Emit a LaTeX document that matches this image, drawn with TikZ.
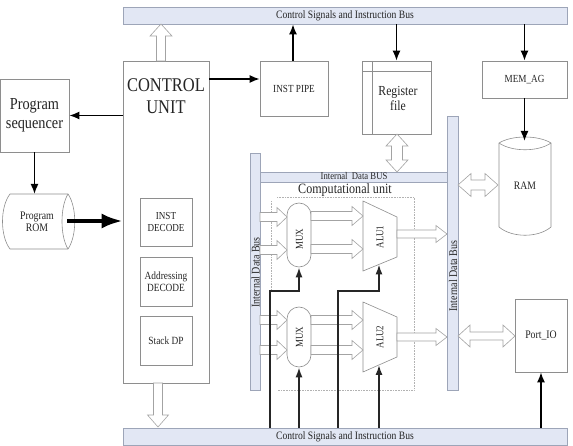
\documentclass[tikz,border=0pt]{standalone}
\usepackage{fontspec}
\setmainfont{Liberation Serif}[FakeStretch=0.85]
\usetikzlibrary{arrows.meta,calc}
\definecolor{busfill}{HTML}{E2E7F4}
\definecolor{busline}{HTML}{9DA5B8}
\definecolor{boxline}{HTML}{8E8E8E}
\definecolor{holline}{HTML}{A3A3A3}
\definecolor{txt}{HTML}{252525}
\newcommand\fs[2]{\fontsize{#1pt}{#2pt}\selectfont}
% hollow arrows: right single, horizontal double, vertical double, up, down
\newcommand\HR[6]{\draw[hol] (#1,#3-#4) -- (#2-#6,#3-#4) -- (#2-#6,#3-#5) -- (#2,#3) -- (#2-#6,#3+#5) -- (#2-#6,#3+#4) -- (#1,#3+#4) -- cycle;}
\newcommand\HD[6]{\draw[hol] (#1,#3) -- (#1+#6,#3-#5) -- (#1+#6,#3-#4) -- (#2-#6,#3-#4) -- (#2-#6,#3-#5) -- (#2,#3) -- (#2-#6,#3+#5) -- (#2-#6,#3+#4) -- (#1+#6,#3+#4) -- (#1+#6,#3+#5) -- cycle;}
\newcommand\VD[6]{\draw[hol] (#1,#2) -- (#1+#5,#2+#6) -- (#1+#4,#2+#6) -- (#1+#4,#3-#6) -- (#1+#5,#3-#6) -- (#1,#3) -- (#1-#5,#3-#6) -- (#1-#4,#3-#6) -- (#1-#4,#2+#6) -- (#1-#5,#2+#6) -- cycle;}
\newcommand\VU[6]{\draw[hol] (#1-#4,#2) -- (#1-#4,#3+#6) -- (#1-#5,#3+#6) -- (#1,#3) -- (#1+#5,#3+#6) -- (#1+#4,#3+#6) -- (#1+#4,#2) -- cycle;}
\newcommand\VDn[6]{\draw[hol] (#1-#4,#2) -- (#1-#4,#3-#6) -- (#1-#5,#3-#6) -- (#1,#3) -- (#1+#5,#3-#6) -- (#1+#4,#3-#6) -- (#1+#4,#2) -- cycle;}
\tikzset{
 bus/.style={draw=busline, fill=busfill, line width=0.7pt, inner sep=0pt, text=txt},
 box/.style={draw=boxline, fill=white, line width=0.6pt, inner sep=0pt, align=center, text=txt},
 lbl/.style={inner sep=0pt, align=center, text=txt},
 hol/.style={draw=holline, fill=white, line width=0.6pt},
 arr/.style={draw=black, line width=1.6pt, -{Latex[length=10pt,width=8pt]}},
 ctl/.style={draw=black!85, line width=1.7pt, -{Latex[length=10pt,width=7pt]}},
 thickarr/.style={draw=black, line width=4pt, -{Latex[length=21pt,width=15pt]}},
 dotl/.style={draw=gray!60, densely dotted, line width=0.6pt},
}
\begin{document}
\begin{tikzpicture}[x=1pt,y=-1pt]
\useasboundingbox (0,0) rectangle (573,446);
% buses
\node[bus, minimum width=444pt, minimum height=17pt, font=\fs{11.3}{13}] (topbus) at (345,15.5) {Control Signals and Instruction Bus};
\node[bus, minimum width=444pt, minimum height=17pt, font=\fs{11.3}{13}] (botbus) at (345,436.5) {Control Signals and Instruction Bus};
\node[bus, minimum width=10pt, minimum height=237pt] (lbus) at (255,271.5) {};
\node[lbl, rotate=90, font=\fs{11.8}{13}] (lbustxt) at (255.5,272.5) {Internal Data Bus};
\node[bus, minimum width=11pt, minimum height=274pt] (rbus) at (452.5,253) {};
\node[lbl, rotate=90, font=\fs{11.8}{13}] (rbustxt) at (453,276) {Internal Data Bus};
\node[bus, minimum width=187pt, minimum height=10pt] (hbus) at (353.5,177) {};
\node[lbl, font=\fs{10.2}{11}] (hbustxt) at (354,176.5) {Internal\ \ Data BUS};
% control unit
\node[box, minimum width=86pt, minimum height=322pt] (ctrl) at (166,222) {};
\node[lbl, font=\fs{19.4}{22}] (ctrltxt) at (166,96) {CONTROL\\UNIT};
\node[box, minimum width=52pt, minimum height=48pt, font=\fs{10.7}{12.3}] (instdec) at (166,222) {INST\\DECODE};
\node[box, minimum width=52pt, minimum height=49pt, font=\fs{11}{12.3}] (addrdec) at (166,281.5) {Addressing\\DECODE};
\node[box, minimum width=52pt, minimum height=49pt, font=\fs{11}{12.3}] (stack) at (166,340.5) {Stack DP};
% other boxes
\node[box, minimum width=68pt, minimum height=55pt, font=\fs{10.8}{12}] (instpipe) at (294,88.5) {INST PIPE};
\node[box, minimum width=69pt, minimum height=73pt, font=\fs{16.8}{19.5}] (seq) at (34.5,115.5) {Program\\sequencer};
\node[box, minimum width=69pt, minimum height=73pt] (regfile) at (396.5,97.5) {};
\draw[boxline, line width=0.6pt] (372,61) -- (372,134) (362,71) -- (431,71);
\node[lbl, font=\fs{13.8}{15.5}] (regtxt) at (398,98.5) {Register\\file};
\node[box, minimum width=85pt, minimum height=37pt, font=\fs{10.8}{12}] (memag) at (524.5,79.5) {MEM\_AG};
\node[box, minimum width=52pt, minimum height=73pt, font=\fs{11.5}{12}] (portio) at (541,335.5) {Port\_IO};
% program ROM (horizontal cylinder)
\draw[boxline, fill=white, line width=0.6pt] (10,194) -- (68,194) .. controls (77,207) and (77,236) .. (68,249) -- (10,249) .. controls (0,236) and (0,207) .. (10,194) -- cycle;
\draw[boxline, line width=0.6pt] (68,194) .. controls (60,207) and (60,236) .. (68,249);
\node[lbl, font=\fs{11.5}{12}] (rom) at (37,222) {Program\\ROM};
\coordinate (romtop) at (34.5,194);
\coordinate (romright) at (67,221);
% RAM (vertical cylinder)
\draw[boxline, fill=white, line width=0.6pt] (499,143) .. controls (512,135) and (538,135) .. (551,143) -- (551,227) .. controls (538,238) and (512,238) .. (499,227) -- cycle;
\draw[boxline, line width=0.6pt] (499,143) .. controls (512,152) and (538,152) .. (551,143);
\node[lbl, font=\fs{11.4}{12}] (ram) at (525,186) {RAM};
\coordinate (ramtop) at (524.5,141);
% computational unit
\node[lbl, font=\fs{14.2}{15}] (comptxt) at (345,190.5) {Computational unit};
\draw[dotl] (277,197) -- (414,197) -- (414,390) -- (277,390);
\draw[dotl] (271,201) -- (271,291);
\node[box, rounded corners=12pt, minimum width=24pt, minimum height=64pt] (mux1) at (299,235) {};
\node[lbl, rotate=90, font=\fs{10.5}{11}] (mux1txt) at (299.5,239) {MUX};
\node[box, rounded corners=12pt, minimum width=24pt, minimum height=60pt] (mux2) at (299,337) {};
\node[lbl, rotate=90, font=\fs{10.5}{11}] (mux2txt) at (299.5,337) {MUX};
\draw[boxline, fill=white, line width=0.6pt] (363,201) -- (397,217) -- (397,257) -- (363,271) -- cycle;
\node[lbl, rotate=90, font=\fs{10.5}{11}] (alu1) at (380,237) {ALU1};
\draw[boxline, fill=white, line width=0.6pt] (363,302) -- (397,317) -- (397,357) -- (363,372) -- cycle;
\node[lbl, rotate=90, font=\fs{10.5}{11}] (alu2) at (380,337) {ALU2};
\coordinate (alu1b) at (379,264.4);
\coordinate (alu2b) at (379,364.9);
% hollow arrows
\VU{161}{61}{24}{4.5}{11}{12}
\VDn{158}{383}{427}{4.5}{10.5}{12}
\VD{397}{134}{172}{5.5}{11}{12}
\HD{458}{498}{185}{5}{11.5}{13}
\HD{458}{515}{336}{4}{11}{12}
\HR{260}{287}{217}{4.5}{9.5}{10}
\HR{260}{287}{250}{4.5}{9.5}{10}
\HR{311}{363}{216}{4.5}{9.5}{11}
\HR{311}{363}{249}{4.5}{9.5}{11}
\HR{260}{287}{320}{4.5}{9.5}{10}
\HR{260}{287}{350}{4.5}{9.5}{10}
\HR{311}{363}{320}{4.5}{9.5}{11}
\HR{311}{363}{350}{4.5}{9.5}{11}
\HR{397}{447}{234}{4}{8.5}{11}
\HR{397}{447}{337}{4}{8.5}{11}
% black arrows
\coordinate (yp) at (0,79);
\draw[arr] (ctrl.east |- yp) -- (instpipe.west |- yp);
\draw[arr] (instpipe.north -| 293,0) -- (topbus.south -| 293,0);
\draw[arr] (regfile.north |- topbus.south) -- (regfile.north);
\draw[arr] (memag.north |- topbus.south) -- (memag.north);
\draw[arr] (memag.south) -- (ramtop);
\draw[arr] (ctrl.west |- seq.east) -- (seq.east);
\draw[arr] (seq.south) -- (romtop);
\draw[thickarr] (romright) -- (ctrl.west |- romright);
\draw[arr] (portio.south |- botbus.north) -- (portio.south);
% control lines
\draw[ctl] (botbus.north -| 270,0) |- (299,291) -- (mux1.south);
\draw[ctl] (botbus.north -| 338,0) |- (379,291) -- (alu1b);
\draw[ctl] (mux2.south |- botbus.north) -- (mux2.south);
\draw[ctl] (alu2b |- botbus.north) -- (alu2b);
\end{tikzpicture}
\end{document}
